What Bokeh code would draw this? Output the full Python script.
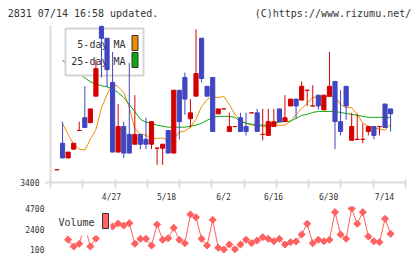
import math
from bokeh.plotting import figure
from bokeh.layouts import column
from bokeh.models import Range1d, FixedTicker, Label, BoxAnnotation, LinearAxis
from bokeh.embed import file_html
from bokeh.resources import INLINE

NAN = float("nan")

# ---------------- data ----------------
open_ = [3465, 3600, 3525, 3570, 3665, 3730, 3705, 3840, 4195, 4135,
         3910, 3555, 3685, 3645, 3595, 3645, 3620, 3595, 3575, 3575,
         3665, 3550, 3870, 3935, 3725, 3840, 4135, 3890, 3935, 3750,
         3775, 3660, 3685, 3730, 3685, 3755, 3755, 3645, 3640, 3685,
         3775, 3710, 3790, 3825, 3820, 3870, 3790, 3845, 3770, 3840,
         3915, 3710, 3890, 3615, 3620, 3620, 3660, 3685, 3685, 3800,
         3775]
high = [3465, 3710, 3555, 3600, 3710, 3890, 3775, 4025, 4210, 4135,
        4065, 3800, 3710, 4010, 3845, 3645, 3730, 3710, 3575, 3595,
        3665, 3870, 3870, 3960, 3825, 4180, 4135, 3890, 3935, 3775,
        3775, 3755, 3685, 3755, 3755, 3755, 3775, 3775, 3775, 3775,
        3775, 3845, 3825, 3825, 3915, 3870, 3895, 3845, 3845, 4065,
        3915, 3870, 3890, 3755, 3750, 3700, 3685, 3685, 3685, 3800,
        3775]
low = [3465, 3525, 3525, 3570, 3665, 3680, 3705, 3840, 3935, 3885,
       3555, 3555, 3525, 3550, 3595, 3570, 3570, 3570, 3490, 3490,
       3550, 3550, 3620, 3745, 3680, 3840, 3910, 3840, 3660, 3750,
       3775, 3660, 3685, 3660, 3640, 3755, 3660, 3615, 3640, 3685,
       3710, 3710, 3790, 3725, 3820, 3790, 3790, 3770, 3770, 3840,
       3570, 3640, 3720, 3615, 3615, 3600, 3640, 3620, 3640, 3680,
       3660]
close = [3465, 3525, 3555, 3600, 3665, 3680, 3775, 3980, 4135, 3975,
         3555, 3685, 3550, 3550, 3645, 3595, 3595, 3710, 3575, 3595,
         3550, 3870, 3710, 3825, 3755, 3955, 3930, 3840, 3660, 3775,
         3775, 3685, 3685, 3660, 3660, 3755, 3660, 3645, 3710, 3710,
         3710, 3730, 3825, 3790, 3890, 3870, 3790, 3790, 3845, 3890,
         3710, 3660, 3790, 3685, 3620, 3620, 3685, 3640, 3685, 3680,
         3750]
ma5 = [NAN, 3700, 3645, 3595, 3570, 3565, 3620, 3670, 3780, 3848,
       3903, 3888, 3858, 3782, 3672, 3647, 3642, 3621, 3626, 3626,
       3616, 3621, 3657, 3662, 3682, 3722, 3787, 3823, 3838, 3833,
       3838, 3797, 3747, 3717, 3702, 3692, 3692, 3687, 3687, 3692,
       3692, 3692, 3712, 3747, 3777, 3803, 3833, 3838, 3838, 3838,
       3838, 3797, 3782, 3782, 3747, 3702, 3687, 3677, 3672, 3667,
       3697]
ma25 = [NAN, 4024, 3994, 3974, 3953, 3933, 3913, 3903, 3893, 3888,
        3878, 3858, 3833, 3797, 3762, 3722, 3707, 3702, 3692, 3687,
        3682, 3682, 3682, 3682, 3687, 3692, 3702, 3717, 3732, 3737,
        3737, 3737, 3732, 3712, 3702, 3697, 3692, 3692, 3692, 3702,
        3707, 3712, 3712, 3727, 3742, 3747, 3757, 3762, 3762, 3762,
        3762, 3757, 3752, 3747, 3742, 3737, 3732, 3732, 3732, 3732,
        3732]
volume = [2790, 3350, 1190, 440, 740, 2790, 440, 1330, 3910, 3130,
          2680, 3020, 2790, 3050, 740, 1300, 1300, 550, 2900, 1190,
          1370, 2530, 1190, 810, 4030, 3720, 1300, 550, 3430, 290,
          100, 660, 120, 660, 1190, 810, 1110, 1480, 1300, 1030,
          1300, 660, 920, 1000, 1780, 2980, 810, 1190, 1030, 1190,
          4290, 1780, 1300, 4700, 2980, 4290, 1560, 1030, 920, 3540,
          1860]
date_labels = ["4/27", "5/18", "6/2", "6/16", "6/30", "7/14"]
date_label_pos = [9.8, 19.7, 29.95, 38.95, 48.85, 58.9]
price_ticks = [3400]
volume_ticks = [100, 2400, 4700]
title_left = "2831 07/14 16:58 updated."
title_right = "(C)https://www.rizumu.net/"
legend_labels = ["5-day MA", "25-day MA"]

# ---------------- styling ----------------
UP = "#d40000"
DOWN = "#4046c0"
ORANGE = "#f08c00"
GREEN = "#10a810"
VOL = "#ff6060"
AXIS = "#dcdcdc"
TXT = "#333333"
MONO = "DejaVu Sans Mono"

idx = list(range(len(close)))
colors = [UP if c >= o else DOWN for o, c in zip(open_, close)]
body_top = [max(o, c) for o, c in zip(open_, close)]
body_bot = [min(o, c) for o, c in zip(open_, close)]

x0, x1 = -1.17, 62.68
x_range = Range1d(x0, x1)
minor = [x0 + k * (x1 - x0) / 11 for k in range(12)]

FRAME_L, FRAME_R = 50, 405   # page pixels of the plotting frame


def scr(**kw):
    return dict(left_units="screen", right_units="screen",
                top_units="screen", bottom_units="screen", **kw)


# ---------------- price chart ----------------
p = figure(width=420, height=204, x_range=x_range, y_range=Range1d(3400, 4200),
           output_backend="svg", toolbar_location=None, title=None,
           min_border_left=FRAME_L, min_border_right=420 - FRAME_R, min_border_top=25,
           min_border_bottom=20)
p.outline_line_color = None
p.grid.visible = False

xa = p.xaxis[0]
xa.ticker = FixedTicker(ticks=date_label_pos, minor_ticks=minor)
xa.major_label_overrides = {pos: lab for pos, lab in zip(date_label_pos, date_labels)}
xa.major_tick_line_color = None
xa.major_tick_out = 4
xa.major_tick_in = 0
xa.minor_tick_line_color = AXIS
xa.minor_tick_line_width = 2
xa.minor_tick_in = 3
xa.minor_tick_out = 5
xa.axis_line_color = AXIS
xa.axis_line_width = 2
xa.major_label_standoff = 5
xa.major_label_text_font = MONO
xa.major_label_text_font_size = "8px"
xa.major_label_text_color = TXT

ya = p.yaxis[0]
ya.ticker = FixedTicker(ticks=price_ticks)
ya.major_tick_out = 5
ya.major_tick_in = 0
ya.major_tick_line_color = AXIS
ya.major_tick_line_width = 2
ya.minor_tick_line_color = None
ya.axis_line_color = AXIS
ya.axis_line_width = 2
ya.major_label_standoff = 6
ya.major_label_text_font = MONO
ya.major_label_text_font_size = "8px"
ya.major_label_text_color = TXT

# header line: an axis above the frame whose range is the page's pixel columns
p.extra_x_ranges = {"hdr": Range1d(FRAME_L, FRAME_R)}
hdr_pos = [82.5, 332.5]
hax = LinearAxis(x_range_name="hdr", ticker=FixedTicker(ticks=hdr_pos, minor_ticks=[]),
                 major_label_overrides={hdr_pos[0]: title_left, hdr_pos[1]: title_right},
                 axis_line_color=None, major_tick_line_color=None,
                 minor_tick_line_color=None, major_tick_in=0, major_tick_out=0,
                 major_label_standoff=7, major_label_text_font=MONO,
                 major_label_text_font_size="10px", major_label_text_color=TXT)
p.add_layout(hax, "above")

# moving averages (painted first, under the legend box)
p.line(idx, ma5, line_color=ORANGE, line_width=1, level="image")
p.line(idx, ma25, line_color=GREEN, line_width=1, level="image")

# legend box (above the MA lines, under the candles)
p.add_layout(BoxAnnotation(**scr(left=15, right=93, top=154, bottom=107,
                                 fill_color="white", fill_alpha=1.0,
                                 line_color="#d4d4d4", line_width=2, line_alpha=1.0,
                                 level="underlay")))
for lab, ly, col, bt, bb in [(legend_labels[0], 138, ORANGE, 147, 132),
                             (legend_labels[1], 121.5, GREEN, 130, 115)]:
    p.add_layout(Label(x=75, y=ly, x_units="screen", y_units="screen", text=lab,
                       text_align="right", text_baseline="middle",
                       text_font=MONO, text_font_size="10px", text_color=TXT,
                       level="underlay"))
    p.add_layout(BoxAnnotation(**scr(left=81.5, right=87.5, top=bt, bottom=bb,
                                     fill_color=col, fill_alpha=1.0,
                                     line_color="#333333", line_width=1, line_alpha=1.0,
                                     level="underlay")))

# candles
p.segment(x0=idx, y0=high, x1=idx, y1=low, line_color=colors, line_width=1)
p.vbar(x=idx, top=body_top, bottom=body_bot, width=0.75,
       fill_color=colors, line_color=colors, line_width=1)

# ---------------- volume chart ----------------
vmin, vmax = volume_ticks[0], volume_ticks[-1]
per_px = (vmax - vmin) / 41.0
v = figure(width=420, height=55, x_range=x_range,
           y_range=Range1d(vmin - 8 * per_px, vmax + 2 * per_px),
           output_backend="svg", toolbar_location=None, title=None,
           x_axis_location=None,
           min_border_left=FRAME_L, min_border_right=420 - FRAME_R, min_border_top=2,
           min_border_bottom=2)
v.outline_line_color = None
v.grid.visible = False
vy = v.yaxis[0]
vy.ticker = FixedTicker(ticks=volume_ticks)
vy.axis_line_color = None
vy.major_tick_line_color = None
vy.minor_tick_line_color = None
vy.major_tick_out = 0
vy.major_tick_in = 0
vy.major_label_standoff = 6
vy.major_label_text_font = MONO
vy.major_label_text_font_size = "8px"
vy.major_label_text_color = TXT

v.line(idx, volume, line_color=VOL, line_width=1)
v.scatter(idx, volume, marker="square", angle=math.pi / 4, size=5,
          fill_color=VOL, line_color=VOL)

v.add_layout(BoxAnnotation(**scr(left=1, right=60, top=47, bottom=22,
                                 fill_color="white", fill_alpha=1.0, line_color=None)))
v.add_layout(Label(x=8, y=35, x_units="screen", y_units="screen", text="Volume",
                   text_align="left", text_baseline="middle", text_font=MONO,
                   text_font_size="10px", text_color=TXT))
v.add_layout(BoxAnnotation(**scr(left=52, right=58, top=44, bottom=29,
                                 fill_color=VOL, fill_alpha=1.0,
                                 line_color="#333333", line_width=1, line_alpha=1.0)))

layout = column(p, v, spacing=0)
open("out.html", "w").write(file_html(layout, INLINE))
